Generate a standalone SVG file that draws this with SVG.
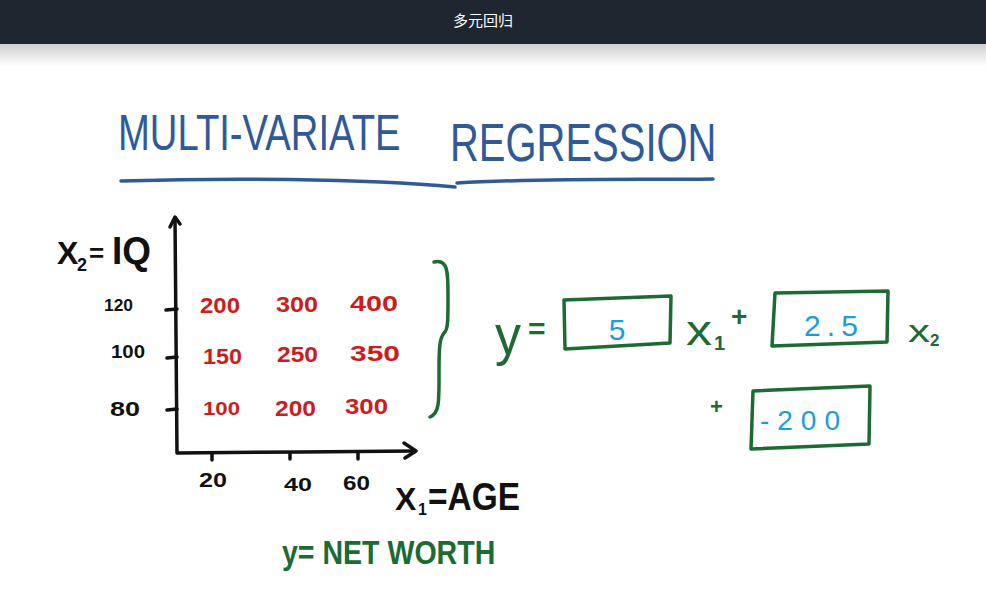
<svg xmlns="http://www.w3.org/2000/svg" width="986" height="599" viewBox="0 0 986 599">
<defs>
<linearGradient id="shadow" x1="0" y1="0" x2="0" y2="1">
<stop offset="0" stop-color="#cfcfcf"/>
<stop offset="1" stop-color="#ffffff"/>
</linearGradient>
<style>
.hand{font-family:"Liberation Sans","Noto Sans CJK SC",sans-serif}
.blue{fill:#2f5a97}
.red{fill:#cc1d1d;font-weight:bold}
.blk{fill:#111}
.grn{fill:#1d6a33}
.cyan{fill:#1c9cdc}
.ink{fill:none;stroke-linecap:round;stroke-linejoin:round}
.kline{stroke:#111;stroke-width:3.5}
.gline{stroke:#1d6a33;stroke-width:3.5}
.bline{stroke:#2f5a97;stroke-width:3.5}
</style>
</defs>
<rect x="0" y="0" width="986" height="599" fill="#ffffff"/>
<rect x="0" y="44" width="986" height="22" fill="url(#shadow)"/>
<g id="header">
<rect x="0" y="0" width="986" height="44" fill="#1e2630"/>
<text x="483" y="26" text-anchor="middle" font-size="15" fill="#ffffff" font-family="'Noto Sans CJK SC',sans-serif">多元回归</text>
</g>
<g id="title">
<text class="hand blue" transform="translate(118,150) scale(0.765,1)" x="0" y="0" font-size="50">MULTI-VARIATE</text>
<text class="hand blue" transform="translate(450,161) scale(0.74,1)" x="0" y="0" font-size="54">REGRESSION</text>
<path class="ink bline" d="M121,181 C220,178 360,178 455,187"/>
<path class="ink bline" d="M457,183 C540,178 640,180 713,179"/>
</g>
<g id="axes">
<path class="ink kline" d="M175,218 L177,453 L300,452 L415,451"/>
<path class="ink kline" d="M170,227 L175,217 L180,224"/>
<path class="ink kline" d="M404,443 L416,451 L405,458"/>
<path class="ink kline" d="M166,310 L177,309 M167,358 L177,357 M167,410 L177,409 M212,453 L212,460 M290,453 L290,459 M358,452 L358,459"/>
</g>
<g id="labels" class="hand blk" font-weight="bold">
<text x="57" y="264" font-size="32">X</text>
<text x="77" y="271" font-size="18">2</text>
<text x="89" y="262" font-size="26">=</text>
<text x="112" y="264" font-size="38" textLength="39" lengthAdjust="spacingAndGlyphs">IQ</text>
<text x="104" y="311" font-size="16" textLength="29" lengthAdjust="spacingAndGlyphs">120</text>
<text x="111" y="358" font-size="18" textLength="34" lengthAdjust="spacingAndGlyphs">100</text>
<text x="110" y="416" font-size="20" textLength="30" lengthAdjust="spacingAndGlyphs">80</text>
<text x="199" y="487" font-size="20" textLength="28" lengthAdjust="spacingAndGlyphs">20</text>
<text x="284" y="491" font-size="18" textLength="28" lengthAdjust="spacingAndGlyphs">40</text>
<text x="343" y="490" font-size="20" textLength="27" lengthAdjust="spacingAndGlyphs">60</text>
<text x="395" y="510" font-size="32">X</text>
<text x="418" y="515" font-size="16">1</text>
<text x="428" y="510" font-size="38" textLength="92" lengthAdjust="spacingAndGlyphs">=AGE</text>
</g>
<g id="table" class="hand red" font-size="22">
<text x="200" y="313" textLength="40" lengthAdjust="spacingAndGlyphs">200</text>
<text x="276" y="312" textLength="42" lengthAdjust="spacingAndGlyphs">300</text>
<text x="350" y="311" textLength="48" lengthAdjust="spacingAndGlyphs">400</text>
<text x="203" y="364" textLength="39" lengthAdjust="spacingAndGlyphs">150</text>
<text x="277" y="362" textLength="41" lengthAdjust="spacingAndGlyphs">250</text>
<text x="350" y="361" textLength="50" lengthAdjust="spacingAndGlyphs">350</text>
<text x="203" y="415" font-size="19" textLength="37" lengthAdjust="spacingAndGlyphs">100</text>
<text x="275" y="416" textLength="41" lengthAdjust="spacingAndGlyphs">200</text>
<text x="345" y="414" textLength="43" lengthAdjust="spacingAndGlyphs">300</text>
</g>
<g id="brace">
<path class="ink gline" d="M434,262 C449,258 448,275 448,300 C448,320 448,330 444,333 C440,338 439,345 439,370 C439,400 440,413 430,417"/>
</g>
<g id="equation">
<text class="hand grn" x="495" y="354" font-size="56" textLength="26" lengthAdjust="spacingAndGlyphs">y</text>
<text class="hand grn" x="528" y="339" font-size="30" font-weight="bold">=</text>
<g id="box1">
<polygon class="ink gline" points="564,300 671,296 670,343 565,349"/>
<text class="hand cyan" x="617" y="340" font-size="30" text-anchor="middle">5</text>
</g>
<text class="hand grn" x="686" y="345" font-size="42" textLength="26" lengthAdjust="spacingAndGlyphs">x</text>
<text class="hand grn" x="714" y="350" font-size="20" font-weight="bold">1</text>
<text class="hand grn" x="731" y="326" font-size="28" font-weight="bold">+</text>
<g id="box2">
<polygon class="ink gline" points="775,293 888,291 887,342 772,346"/>
<text class="hand cyan" x="804" y="336" font-size="30" textLength="54" lengthAdjust="spacing">2.5</text>
</g>
<text class="hand grn" x="908" y="342" font-size="32" textLength="22" lengthAdjust="spacingAndGlyphs">x</text>
<text class="hand grn" x="930" y="346" font-size="17" font-weight="bold">2</text>
<text class="hand grn" x="710" y="414" font-size="22" font-weight="bold">+</text>
<g id="box3">
<polygon class="ink gline" points="753,391 870,386 869,444 751,449"/>
<text class="hand cyan" x="760" y="430" font-size="28" textLength="80" lengthAdjust="spacing">-200</text>
</g>
</g>
<g id="legend">
<text class="hand grn" transform="translate(282,564) scale(0.84,1)" x="0" y="0" font-size="34" font-weight="bold">y= NET WORTH</text>
</g>
</svg>
